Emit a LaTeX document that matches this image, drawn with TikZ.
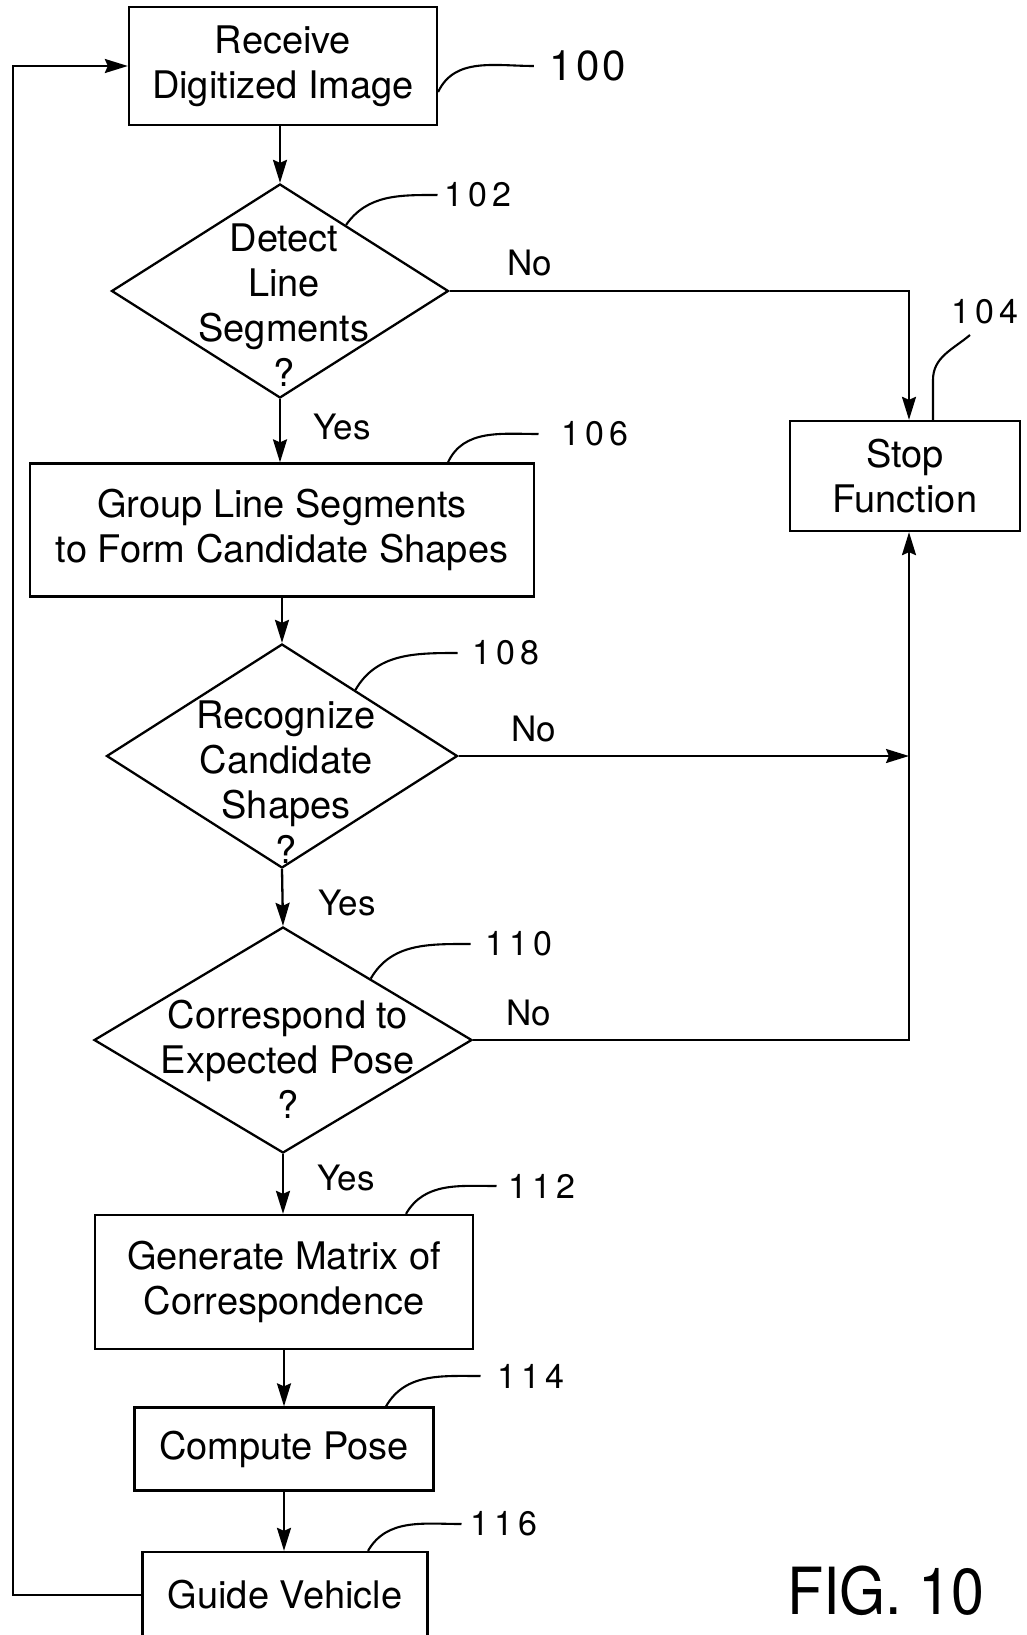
\documentclass[tikz,border=0pt]{standalone}
\usepackage{fontspec}
\usepackage{graphicx}
\setmainfont{TeX Gyre Heros}
\usetikzlibrary{arrows.meta,shapes.geometric}
\newcommand{\refnum}[3]{#1\kern5pt#2\kern5pt#3}
\begin{document}
\begin{tikzpicture}[x=1pt,y=-1pt,
  line width=2.3pt,
  box/.style={draw, rectangle, inner sep=0pt, align=center, font=\fontsize{38}{45}\selectfont},
  dia/.style={draw, diamond, inner sep=0pt},
  dtext/.style={align=center, inner sep=0pt, font=\fontsize{38}{45}\selectfont},
  lbl/.style={inner sep=0pt, font=\fontsize{35}{40}\selectfont},
  num/.style={inner sep=0pt, font=\fontsize{34}{36}\selectfont},
  arr/.style={-{Stealth[length=23pt,width=14pt,inset=3pt]}},
  lead/.style={line width=2.1pt},
]
\useasboundingbox (0,0) rectangle (1026,1635);
\clip (0,0) rectangle (1026,1635);

% boxes
\node[box, minimum width=308, minimum height=118] (b100) at (283,66) {Receive\\Digitized Image};
\node[dia, minimum width=337, minimum height=214] (d102) at (280,291) {};
\node[dtext] (t102) at (284,305) {Detect\\Line\\Segments\\?};
\node[box, minimum width=504, minimum height=133] (b106) at (282,530) {Group Line Segments\\to Form Candidate Shapes};
\node[dia, minimum width=351, minimum height=224] (d108) at (282,756) {};
\node[dtext] (t108) at (286,782) {Recognize\\Candidate\\Shapes\\?};
\node[dia, minimum width=378, minimum height=226] (d110) at (283,1040) {};
\node[dtext] (t110) at (288,1059) {Correspond to\\Expected Pose\\?};
\node[box, minimum width=378, minimum height=134] (b112) at (284,1282) {Generate Matrix of\\Correspondence};
\node[box, minimum width=299, minimum height=83] (b114) at (284,1449) {Compute Pose};
\node[box, minimum width=285, minimum height=86] (b116) at (285,1595) {Guide Vehicle};
\node[box, minimum width=230, minimum height=110] (stop) at (905,476) {Stop\\Function};

% yes / no labels
\node[lbl] (y1) at (342,427) {Yes};
\node[lbl] (y2) at (347,903) {Yes};
\node[lbl] (y3) at (346,1178) {Yes};
\node[lbl] (no1) at (530,263) {No};
\node[lbl] (no2) at (534,729) {No};
\node[lbl] (no3) at (529,1013) {No};

% reference numerals
\node[inner sep=0pt, font=\fontsize{42}{44}\selectfont] (n100) at (588,66) {1\kern3pt0\kern3pt0};
\node[num] (n102) at (478,195) {\refnum102};
\node[num] (n104) at (985,312) {\refnum104};
\node[num] (n106) at (595,434) {\refnum106};
\node[num] (n108) at (506,653) {\refnum108};
\node[num] (n110) at (519,944) {\refnum110};
\node[num] (n112) at (542,1186) {\refnum112};
\node[num] (n114) at (531,1376) {\refnum114};
\node[num] (n116) at (504,1524) {\refnum116};
\node[inner sep=0pt, font=\fontsize{65}{70}\selectfont] (fig) at (886,1591) {\scalebox{0.91}[1]{FIG. 10}};

% helper coordinates
\coordinate (rx) at (909,0);
\coordinate (fb) at (13,0);
\coordinate (e104) at (970,335);

% main flow
\draw[arr] (d102.north |- b100.south) -- (d102.north);
\draw[arr] (d102.south) -- (d102.south |- b106.north);
\draw[arr] (d108.north |- b106.south) -- (d108.north);
\draw[arr] (d108.south) -- (d110.north);
\draw[arr] (d110.south) -- (d110.south |- b112.north);
\draw[arr] (b112.south) -- (b112.south |- b114.north);
\draw[arr] (b114.south) -- (b114.south |- b116.north);

% no branches
\draw[arr] (d102.east) -- (d102.east -| rx) -- (stop.north -| rx);
\draw[arr] (d108.east) -- (d108.east -| rx);
\draw[arr] (d110.east) -- (d110.east -| rx) -- (stop.south -| rx);

% feedback loop
\draw[arr] (b116.west) -- (b116.west -| fb) |- (b100.west);

% leader lines
\draw[lead] ([yshift=-26pt]b100.east) to[out=65,in=180] ([xshift=-15pt]n100.west);
\draw[lead] (d102.45) to[out=55,in=180] ([xshift=-6pt]n102.west);
\draw[lead] ([xshift=28pt]stop.north) -- ++(0,-40) to[out=90,in=220] (e104);
\draw[lead] ([xshift=166pt]b106.north) to[out=65,in=180] ([xshift=-22pt]n106.west);
\draw[lead] (d108.42) to[out=60,in=180] ([xshift=-14pt]n108.west);
\draw[lead] (d110.35) to[out=60,in=180] ([xshift=-14pt]n110.west);
\draw[lead] ([xshift=122pt]b112.north) to[out=60,in=180] ([xshift=-11pt]n112.west);
\draw[lead] ([xshift=102pt]b114.north) to[out=60,in=180] ([xshift=-16pt]n114.west);
\draw[lead] ([xshift=83pt]b116.north) to[out=60,in=180] ([xshift=-8pt]n116.west);
\end{tikzpicture}
\end{document}
